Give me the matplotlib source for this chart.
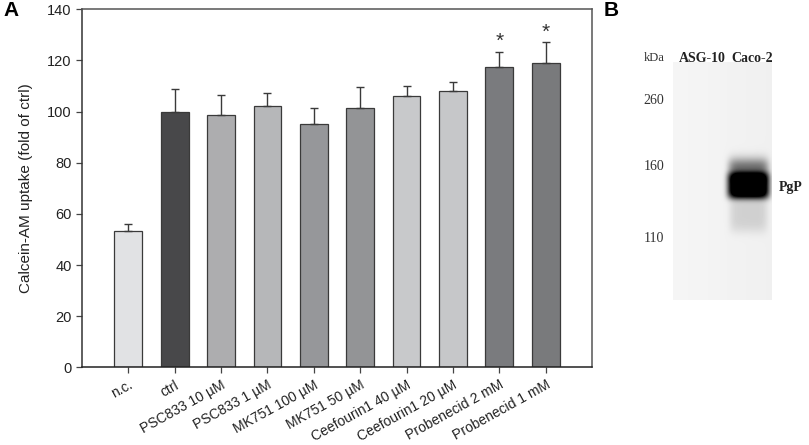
import numpy as np
import matplotlib
matplotlib.use("Agg")
import matplotlib.pyplot as plt

plt.rcParams['font.family'] = ['Liberation Sans', 'DejaVu Sans']

#-----
#Data
#-----
categories = ["n.c.", "ctrl", "PSC833 10 µM", "PSC833 1 µM", "MK751 100 µM",
              "MK751 50 µM", "Ceefourin1 40 µM", "Ceefourin1 20 µM",
              "Probenecid 2 mM", "Probenecid 1 mM"]
uptake = [53.3, 100.0, 98.7, 102.2, 95.1, 101.5, 106.1, 108.0, 117.5, 119.0]
sem = [2.7, 8.7, 7.8, 5.1, 6.2, 8.0, 3.8, 3.7, 5.8, 8.1]
significant = [False, False, False, False, False, False, False, False, True, True]
bar_colors = ["#e1e2e4", "#48484a", "#adadaf", "#b6b7b9", "#96979a",
              "#939496", "#c8c9cb", "#c6c7c9", "#7a7b7e", "#797a7c"]

kda_labels = ["260", "160", "110"]
lane_labels = ["ASG-10", "Caco-2"]

fig = plt.figure(figsize=(8.09, 4.45), dpi=100)

#--------------
#Panel A - bars
#--------------
ax = fig.add_axes([0.1014, 0.1742, 0.6304, 0.8049])
x = np.arange(len(categories))
ax.bar(x, uptake, width=0.6, color=bar_colors, edgecolor="#3a3a3a", linewidth=0.9, zorder=2)
ax.errorbar(x, uptake, yerr=[np.zeros(len(sem)), sem], fmt="none", ecolor="#3a3a3a",
            elinewidth=1.0, capsize=3, capthick=1.0, zorder=3)

for xi, v, e, s in zip(x, uptake, sem, significant):
    if s:
        ax.text(xi, v + e + 0.3, "*", ha="center", va="bottom", fontsize=15, color="#333333")

ax.set_xlim(-1, 10)
ax.set_ylim(0, 140)
ax.set_yticks(np.arange(0, 141, 20))
ax.set_xticks(x)
ax.set_xticklabels(categories, rotation=29, ha="right", rotation_mode="anchor")
ax.tick_params(axis="both", direction="out", length=4, width=0.9, colors="#444444",
               labelcolor="#222222")
ax.tick_params(axis="x", labelsize=10)
ax.tick_params(axis="y", labelsize=10.5)
ax.set_ylabel("Calcein-AM uptake (fold of ctrl)", fontsize=11, color="#222222", labelpad=10)
for sp in ax.spines.values():
    sp.set_color("#555555")
    sp.set_linewidth(1.1)
ax.spines["bottom"].set_color("#222222")
ax.spines["left"].set_color("#333333")

fig.text(3 / 809, 1 - 11 / 445, "A", fontsize=15, fontweight="bold", va="center", ha="left")
fig.text(604 / 809, 1 - 11 / 445, "B", fontsize=15, fontweight="bold", va="center", ha="left")

#------------------
#Panel B - the blot
#------------------
bx = fig.add_axes([673 / 809, 1 - 300 / 445, 99 / 809, 238 / 445])
h, w = 238, 99
yy, xx = np.mgrid[0:h, 0:w]
dark = np.full((h, w), 0.04)
dark += 0.02 * (xx / w)
#band core
core = np.exp(-(((xx - 75) / 20.5) ** 6 + ((yy - 123) / 13.0) ** 4))
#upper halo
halo = 0.5 * np.exp(-(((xx - 75) / 20.0) ** 6 + ((yy - 105) / 9.5) ** 2))
#lower smear
smear = 0.13 * np.exp(-(((xx - 75) / 19.0) ** 6 + ((yy - 150) / 20.0) ** 4))
dark = np.clip(dark + 1.4 * core + halo + smear, 0, 1)
bx.imshow(dark, cmap="gray_r", vmin=0, vmax=1, aspect="auto", interpolation="bilinear")
bx.set_axis_off()

serif = ['Liberation Serif', 'DejaVu Serif']
fig.text(654 / 809, 1 - 58 / 445, "kDa", family=serif, fontsize=9, ha="center", va="center", color="#333333")
lane_x = [702, 752]
for lx, lab in zip(lane_x, lane_labels):
    fig.text(lx / 809, 1 - 58 / 445, lab, family=serif, fontsize=10, fontweight="bold",
             ha="center", va="center", color="#222222")
kda_y = [100, 166, 238]
for ky, lab in zip(kda_y, kda_labels):
    fig.text(654 / 809, 1 - ky / 445, lab, family=serif, fontsize=10, ha="center", va="center", color="#333333")
fig.text(779 / 809, 1 - 187 / 445, "PgP", family=serif, fontsize=10, fontweight="bold",
         ha="left", va="center", color="#222222")

fig.savefig("out.png", dpi=100)
